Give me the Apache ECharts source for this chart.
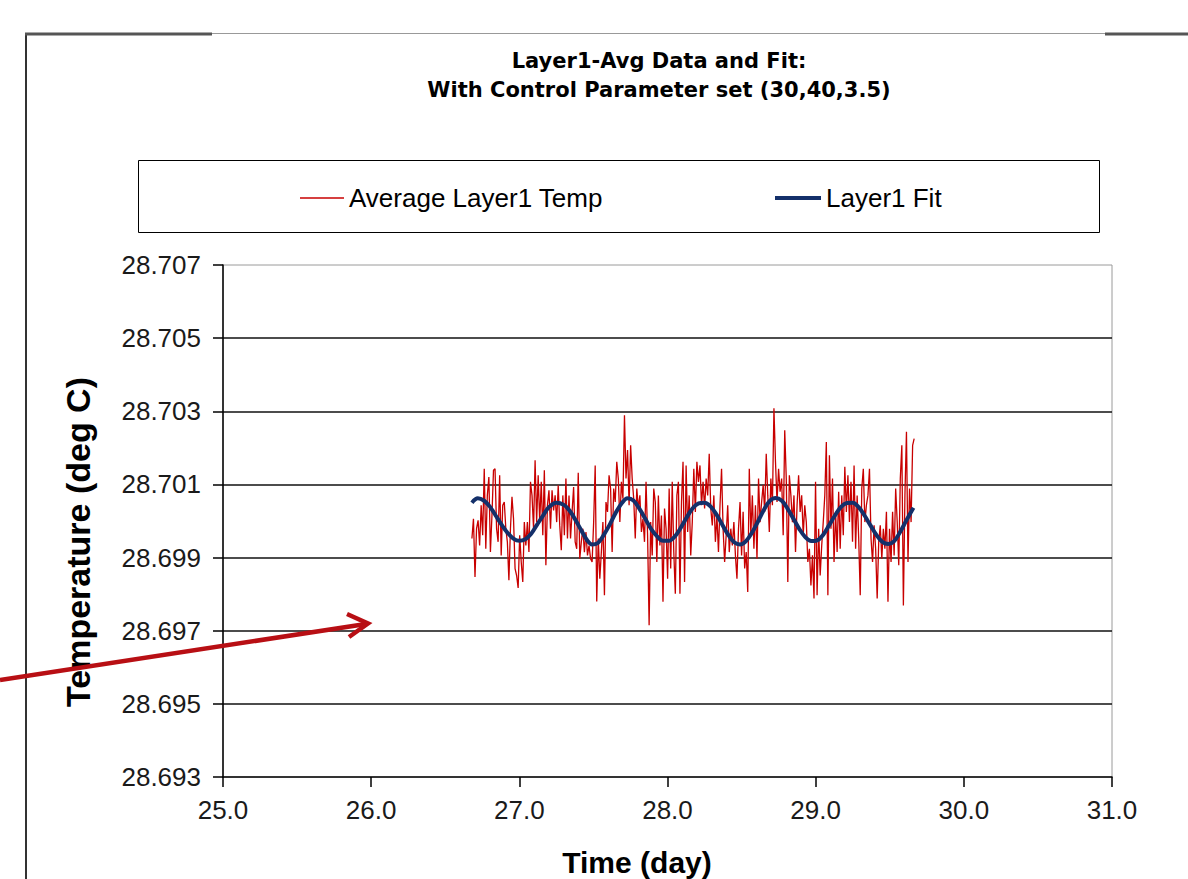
<!DOCTYPE html>
<html><head><meta charset="utf-8">
<script src="https://cdn.jsdelivr.net/npm/echarts@6/dist/echarts.min.js"></script>
<style>html,body{margin:0;padding:0;background:#fff}#c{width:1188px;height:879px}</style>
</head><body><div id="c"></div>
<script>
const titleLines = ['Layer1-Avg Data and Fit:', 'With Control Parameter set (30,40,3.5)'];
const xAxisTitle = 'Time (day)';
const yAxisTitle = 'Temperature (deg C)';
const seriesNames = ['Average Layer1 Temp', 'Layer1 Fit'];
const xRange = [25, 31];
const xStep = 1;
const yRange = [28.693, 28.707];
const yStep = 0.002;

// Average layer temperature, sampled every ~15 minutes starting at day 26.68
const avgStartDay = 26.68;
const avgStepDay = 0.0104;
const avgTemp = [
28.69952, 28.70006, 28.69847, 28.69979, 28.70002, 28.69933, 28.70043, 28.69961, 28.70143, 28.69924,
28.70070, 28.70120, 28.69915, 28.70015, 28.70139, 28.70143, 28.69979, 28.69943, 28.70125, 28.69906,
28.70043, 28.70052, 28.69979, 28.69943, 28.69838, 28.69979, 28.70066, 28.70006, 28.69870, 28.69851,
28.69817, 28.69961, 28.69888, 28.69833, 28.69997, 28.69933, 28.69997, 28.69915, 28.70107, 28.70070,
28.69979, 28.70166, 28.69997, 28.70125, 28.69997, 28.70107, 28.69961, 28.70139, 28.69879, 28.70043,
28.70084, 28.69979, 28.70084, 28.70029, 28.70070, 28.69997,
28.70098, 28.69988, 28.69920, 28.70070, 28.69961, 28.70116, 28.69952, 28.70070, 28.69952, 28.70025,
28.70093, 28.69943, 28.69924, 28.70132, 28.69897, 28.69943, 28.69979, 28.69915, 28.69970, 28.69906,
28.69933, 28.69897, 28.69888, 28.69997, 28.70152, 28.69780, 28.69952, 28.69842, 28.69915, 28.69997,
28.69797, 28.70052, 28.70025, 28.70125, 28.70089, 28.69915, 28.70089, 28.70052, 28.70162, 28.70116,
28.69997, 28.70107, 28.70061, 28.70289, 28.70116, 28.70194, 28.70043, 28.70207, 28.70116, 28.70061,
28.69952, 28.70089, 28.70034, 28.70070, 28.69970, 28.70006, 28.69943, 28.70107,
28.69961, 28.69715, 28.69997, 28.69906, 28.70089, 28.70052, 28.69888, 28.70070, 28.69933, 28.70015,
28.69779, 28.70034, 28.69979, 28.69842, 28.70089, 28.69870, 28.70107, 28.69915, 28.69801, 28.70070,
28.70107, 28.69801, 28.70052, 28.70162, 28.69833, 28.70152, 28.69970, 28.70070, 28.69906, 28.69997,
28.70143, 28.70025, 28.70162, 28.70107, 28.70152, 28.70043, 28.70107, 28.70034, 28.70116, 28.70070,
28.70184, 28.70034, 28.69988, 28.70070, 28.69943, 28.70015, 28.69915, 28.70043, 28.70143, 28.69979,
28.69888, 28.69961, 28.70043, 28.69915, 28.69979, 28.69933, 28.69997, 28.69906, 28.69842,
28.69979, 28.70052, 28.69906, 28.70025, 28.69870, 28.69915, 28.69806, 28.70143, 28.69961, 28.70070,
28.69924, 28.70043, 28.69897, 28.70116, 28.69997, 28.70052, 28.70098, 28.70025, 28.70184, 28.70070,
28.69970, 28.70116, 28.70043, 28.70308, 28.70162, 28.70052, 28.70143, 28.70080, 28.70116, 28.69961,
28.70248, 28.70116, 28.69833, 28.70125, 28.70070, 28.69997, 28.70070, 28.69915, 28.70043, 28.70125,
28.70025, 28.70070, 28.69961, 28.70043, 28.69997, 28.69888, 28.69924, 28.69824, 28.69906, 28.69788,
28.70107, 28.69797, 28.69979, 28.69851, 28.69933, 28.69997, 28.70070, 28.70216,
28.69797, 28.70180, 28.69979, 28.70116, 28.69888, 28.70025, 28.69915, 28.70080, 28.69924, 28.70070,
28.69961, 28.70148, 28.70025, 28.70125, 28.69997, 28.70107, 28.69943, 28.70152, 28.69924, 28.70070,
28.69952, 28.69797, 28.70089, 28.70143, 28.69997, 28.70043, 28.70070, 28.70143, 28.69952, 28.69888,
28.69988, 28.69924, 28.69788, 28.69943, 28.69988, 28.69897, 28.69979, 28.69924, 28.70025, 28.69779,
28.69979, 28.69888, 28.70025, 28.69906, 28.70089, 28.69997, 28.69879, 28.70116, 28.70207, 28.69769,
28.70070, 28.70244, 28.69888, 28.70089, 28.69997, 28.70207, 28.70225
];

// Fit curve
const fitDays = [26.68, 26.72, 26.76, 26.80, 26.84, 26.88, 26.92, 26.96, 27.00, 27.04, 27.08, 27.12, 27.16, 27.20, 27.25,
27.30, 27.34, 27.38, 27.42, 27.46, 27.49, 27.53, 27.57, 27.61, 27.65, 27.69, 27.73, 27.77, 27.81, 27.85, 27.89, 27.93,
27.97, 28.01, 28.05, 28.09, 28.13, 28.17, 28.21, 28.25, 28.29, 28.33, 28.37, 28.41, 28.45, 28.49, 28.53, 28.57, 28.61,
28.65, 28.69, 28.73, 28.77, 28.81, 28.85, 28.89, 28.93, 28.97, 29.01, 29.05, 29.09, 29.13, 29.17, 29.21, 29.25, 29.29,
29.33, 29.37, 29.41, 29.45, 29.49, 29.53, 29.57, 29.61, 29.66];
const fitTemp = [28.70050, 28.70062, 28.70056, 28.70040, 28.70015, 28.69990, 28.69968, 28.69952, 28.69946, 28.69950,
28.69965, 28.69990, 28.70015, 28.70038, 28.70050, 28.70044, 28.70028, 28.70002, 28.69973, 28.69946, 28.69936, 28.69940,
28.69962, 28.69990, 28.70022, 28.70048, 28.70062, 28.70056, 28.70034, 28.70006, 28.69978, 28.69958, 28.69946, 28.69946,
28.69958, 28.69982, 28.70010, 28.70035, 28.70048, 28.70050, 28.70040, 28.70018, 28.69990, 28.69962, 28.69942, 28.69936,
28.69945, 28.69968, 28.69998, 28.70030, 28.70055, 28.70063, 28.70056, 28.70034, 28.70006, 28.69978, 28.69956, 28.69945,
28.69947, 28.69962, 28.69988, 28.70015, 28.70038, 28.70049, 28.70050, 28.70038, 28.70015, 28.69988, 28.69962, 28.69943,
28.69937, 28.69945, 28.69970, 28.70000, 28.70036];

const avgData = avgTemp.map((v, i) => [avgStartDay + i * avgStepDay, v]);
const fitData = fitDays.map((d, i) => [d, fitTemp[i]]);

const FONT = '"Liberation Sans", Arial, sans-serif';
const RED = '#c80000';
const NAVY = '#14306a';
const legendText = {fontSize: 26, fontFamily: FONT, color: '#000'};
const chart = echarts.init(document.getElementById('c'), null, {renderer: 'svg'});
chart.setOption({
  animation: false,
  backgroundColor: '#fff',
  grid: {left: 223, top: 265, width: 889, height: 512, show: true, borderColor: '#9a9a9a', borderWidth: 1, backgroundColor: '#fff'},
  legend: [
    {left: 295, top: 180, itemWidth: 44, itemHeight: 1.5, icon: 'rect', data: [seriesNames[0]], textStyle: legendText, selectedMode: false},
    {left: 770, top: 180, itemWidth: 46, itemHeight: 4, icon: 'rect', data: [seriesNames[1]], textStyle: legendText, selectedMode: false}
  ],
  xAxis: {
    type: 'value', min: xRange[0], max: xRange[1], interval: xStep,
    axisLine: {lineStyle: {color: '#000', width: 1.5}},
    axisTick: {show: true, length: 10, lineStyle: {color: '#000', width: 1.5}},
    axisLabel: {fontSize: 26, fontFamily: FONT, color: '#1a1a1a', margin: 20, formatter: v => v.toFixed(1)},
    splitLine: {show: false}
  },
  yAxis: {
    type: 'value', min: yRange[0], max: yRange[1], interval: yStep,
    axisLine: {show: true, lineStyle: {color: '#000', width: 1.5}},
    axisTick: {show: true, length: 10, lineStyle: {color: '#000', width: 1.5}},
    axisLabel: {fontSize: 26, fontFamily: FONT, color: '#1a1a1a', margin: 22, formatter: v => v.toFixed(3)},
    splitLine: {show: true, showMinLine: false, showMaxLine: false, lineStyle: {color: '#111', width: 1.5}}
  },
  series: [
    {name: seriesNames[0], type: 'line', data: avgData, symbol: 'none', lineStyle: {color: RED, width: 1.3}, itemStyle: {color: RED}, z: 2},
    {name: seriesNames[1], type: 'line', data: fitData, symbol: 'none', smooth: 0.35, lineStyle: {color: NAVY, width: 4}, itemStyle: {color: NAVY}, z: 3}
  ],
  graphic: [
    {type: 'line', shape: {x1: 26, y1: 33, x2: 26, y2: 879}, style: {stroke: '#333', lineWidth: 2}, z: 1},
    {type: 'line', shape: {x1: 25, y1: 34, x2: 212, y2: 34}, style: {stroke: '#555', lineWidth: 3}, z: 1},
    {type: 'line', shape: {x1: 212, y1: 33.5, x2: 1105, y2: 33.5}, style: {stroke: '#999', lineWidth: 1}, z: 1},
    {type: 'line', shape: {x1: 1105, y1: 34, x2: 1188, y2: 34}, style: {stroke: '#555', lineWidth: 3}, z: 1},
    {type: 'rect', shape: {x: 138.5, y: 160.5, width: 961, height: 72}, style: {stroke: '#000', fill: 'none', lineWidth: 1}, z: 1},
    {type: 'text', x: 659, y: 61, style: {text: titleLines[0], font: 'bold 21px "DejaVu Sans"', fill: '#000', align: 'center', verticalAlign: 'middle'}},
    {type: 'text', x: 659, y: 90, style: {text: titleLines[1], font: 'bold 21px "DejaVu Sans"', fill: '#000', align: 'center', verticalAlign: 'middle'}},
    {type: 'text', x: 637, y: 862, style: {text: xAxisTitle, font: 'bold 30px ' + FONT, fill: '#000', align: 'center', verticalAlign: 'middle'}},
    {type: 'text', x: 78, y: 542, rotation: Math.PI / 2, style: {text: yAxisTitle, font: 'bold 34px ' + FONT, fill: '#000', align: 'center', verticalAlign: 'middle'}},
    {type: 'line', shape: {x1: 0, y1: 680, x2: 366, y2: 624}, style: {stroke: '#b80f14', lineWidth: 4.5}, z: 100},
    {type: 'polyline', shape: {points: [[347, 614], [368, 623.5], [349, 637]]}, style: {stroke: '#b80f14', lineWidth: 4.5, fill: 'none', lineJoin: 'miter'}, z: 100}
  ]
});
</script></body></html>
